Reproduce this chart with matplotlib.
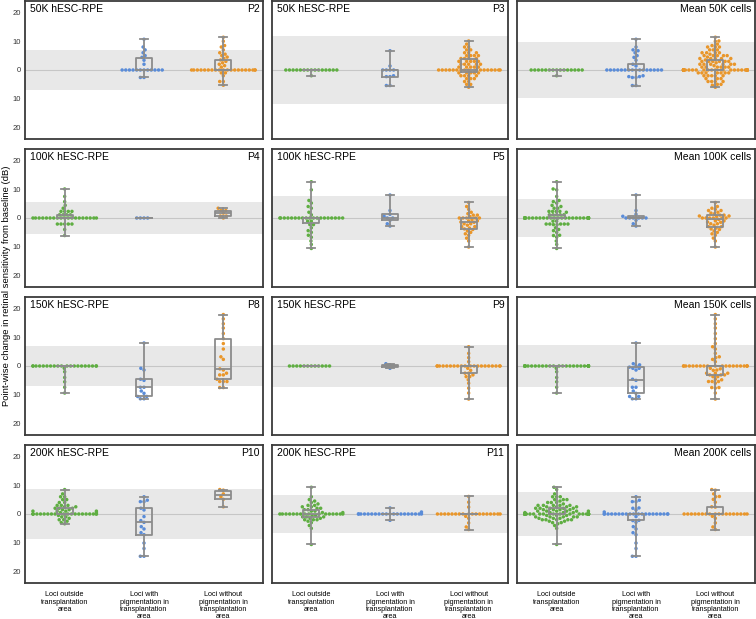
import warnings
import matplotlib
matplotlib.use("Agg")
import matplotlib.pyplot as plt
import numpy as np
import pandas as pd
import seaborn as sns

warnings.filterwarnings("ignore")
plt.rcParams['font.family'] = ['Liberation Sans', 'DejaVu Sans']

# categories (x axis)
cat_keys = ["outside", "pigmented", "unpigmented"]
cat_labels = ["Loci outside\ntransplantation\narea",
              "Loci with\npigmentation in\ntransplantation\narea",
              "Loci without\npigmentation in\ntransplantation\narea"]
colors = {"outside": "#5fae42", "pigmented": "#5a8cd8", "unpigmented": "#e9962a"}

# point-wise change from baseline (dB), one list per patient and category
p2_out = []
p2_pig = [10.7, 8, 7, 6, 5, 4.4, 3.4, 2] + [0] * 12 + [-2.6, -2.6]
p2_nopig = [11.4, 10, 8.5, 8, 7, 6, 5.5, 5, 4.5, 4, 3.5, 3, 2.5, 2, 1.5, 1] + [0] * 20 + [-1, -1, -2, -4, -4, -5.3]

p3_out = [0] * 15 + [-2]
p3_pig = [6.7, 1.4] + [0] * 4 + [-2, -2.3, -2.3, -5.4, -5.4]
p3_nopig = ([10.1, 9, 8, 8, 7, 7, 6, 6, 6, 5, 5, 5, 5, 4, 4, 4, 4, 3, 3, 3, 3, 3, 2, 2, 2, 2, 2, 1, 1, 1, 1, 1]
            + [0] * 17 + [-1, -1, -1, -1, -1, -2, -2, -2, -2, -3, -3, -3, -4, -4, -5, -5, -6])

p4_out = [10.1, 7.5, 5.7, 4.4, 3.4, 2.3, 2.3, 2.3, 2.3, 1.1, 1.1, 1.1, 1.1] + [0] * 19 + [-2.1] * 5 + [-4, -6.1]
p4_pig = [0] * 4
p4_nopig = [3.4, 2.6, 2.6, 1.7, 0.7, 0.7, 0]

p5_out = [12.6, 9.8, 6.1, 5.2, 4, 3.4, 2, 1.1] + [0] * 19 + [-1.1, -1.1, -2.3, -2.3, -3.4, -4.4, -5, -6, -6.7, -8, -9.2, -10.6]
p5_pig = [8, 2.6, 1.3, 0.6, 0, 0, -0.8, -2, -2.8]
p5_nopig = ([5.4, 4, 3, 2, 1.5, 1, 1, 0.5] + [0] * 5
            + [-0.5, -1, -1, -1.4, -1.5, -2, -2, -2.5, -3, -3, -3.5, -3.8, -4, -4.5, -5, -5.5, -6, -7, -8, -10.1])

p8_out = [0] * 20 + [-0.8, -2, -4, -5.5, -7.4, -9.4]
p8_pig = [8, -0.8, -1.4, -4.6, -5, -7.4, -7.4, -8.7, -9.5, -10.6, -10.6, -11.4, -11.4]
p8_nopig = [17.9, 16.4, 14.7, 13.2, 11.3, 9.5, 7.8, 5.9, 3.2, 2.3, -1, -1.4, -2.5, -3.1, -3.1, -4.6, -5.4, -5.4, -5.4, -7.5, -7.5]

p9_out = [0] * 12
p9_pig = [0.8, 0.4, 0, -0.4, -0.8]
p9_nopig = [6.7, 4.4, 2.9, 1.5] + [0] * 20 + [-0.8, -1.5, -2.5, -2.5, -3.1, -3.7, -3.7, -4.8, -6, -7.7, -9.4, -11.5]

p10_out = ([8.5, 7, 6, 6, 5, 5, 4, 4, 3, 3, 3, 2.5, 2.5, 2, 2, 2, 1.5, 1.5, 1, 1, 1, 1, 0.5, 0.5]
           + [0] * 20 + [-0.5, -1, -1, -1.5, -2, -2, -2.5, -3, -3.4])
p10_pig = [6, 4.8, 4.3, 4.3, 2, 1.4, -0.9, -2.3, -2.9, -4.4, -5.2, -6.5, -7.2, -10.1, -12, -14.7, -14.7]
p10_nopig = [8.5, 8.3, 7, 6, 5.1, 2.5]

p11_out = ([9.3, 6, 5, 4.5, 4, 3.5, 3, 3, 2.5, 2.5, 2, 2, 1.5, 1.5, 1, 1, 0.5, 0.5]
           + [0] * 16 + [-0.5, -0.5, -1, -1, -1, -1.5, -1.5, -2, -2, -2, -2.5, -3, -4, -5, -10.6])
p11_pig = [2.1, 0.7] + [0] * 20 + [-2.2]
p11_nopig = [6.1, 4.1, 2.4] + [0] * 18 + [-0.8, -1.5, -3.1, -4.5, -5.4]

# half width of the grey variability band (dB)
bands = [[6.9, 11.7, 9.6],
         [5.7, 7.6, 6.7],
         [7.0, 7.4, 7.2],
         [8.8, 6.6, 7.7]]

doses = ["50K", "100K", "150K", "200K"]
patients = [["P2", "P3"], ["P4", "P5"], ["P8", "P9"], ["P10", "P11"]]
data = [[(p2_out, p2_pig, p2_nopig), (p3_out, p3_pig, p3_nopig)],
        [(p4_out, p4_pig, p4_nopig), (p5_out, p5_pig, p5_nopig)],
        [(p8_out, p8_pig, p8_nopig), (p9_out, p9_pig, p9_nopig)],
        [(p10_out, p10_pig, p10_nopig), (p11_out, p11_pig, p11_nopig)]]

fig = plt.figure(figsize=(7.56, 6.19), dpi=100)
W, H = 756, 619
col_x = [(25, 263), (272, 508), (517, 755)]
row_top = [1, 149, 297, 445]
row_h = 138

box_col = "#8c8c8c"


def draw(ax, groups, band, left_txt, right_txt, bottom):
    ax.axhspan(-band, band, color="#e8e8e8", lw=0, zorder=0)
    ax.axhline(0, color="#c6c6c6", lw=0.8, zorder=0.5)
    vals = np.concatenate([np.asarray(g, dtype=float) for g in groups])
    cats = np.repeat(cat_keys, [len(g) for g in groups])
    df = pd.DataFrame({"cat": cats, "val": vals})
    sns.swarmplot(data=df, x="cat", y="val", hue="cat", order=cat_keys, hue_order=cat_keys,
                  palette=colors, size=2.5, linewidth=0, legend=False, ax=ax, zorder=2)
    pos = [i for i, g in enumerate(groups) if len(g) > 0]
    ax.boxplot([groups[i] for i in pos], positions=pos, widths=0.2, whis=(0, 100),
               showfliers=False, manage_ticks=False, zorder=3,
               boxprops=dict(color=box_col, lw=1.3),
               whiskerprops=dict(color=box_col, lw=1.3),
               capprops=dict(color=box_col, lw=1.3),
               medianprops=dict(color=box_col, lw=1.3))
    ax.set_xlim(-0.5, 2.5)
    ax.set_ylim(-24, 24)
    ax.set_xlabel("")
    ax.set_ylabel("")
    ax.set_xticks([0, 1, 2])
    if bottom:
        ax.set_xticklabels(cat_labels, fontsize=5.2, linespacing=1.05, va="top")
    else:
        ax.set_xticklabels([])
    ax.tick_params(length=0, pad=6)
    for s in ax.spines.values():
        s.set_color("#3a3a3a")
        s.set_linewidth(1.3)
    if left_txt:
        ax.text(0.02, 0.975, left_txt, transform=ax.transAxes, ha="left", va="top", fontsize=7.5)
    ax.text(0.985, 0.975, right_txt, transform=ax.transAxes, ha="right", va="top", fontsize=7.5)


for r in range(4):
    pa, pb = data[r]
    mean_groups = tuple(pa[k] + pb[k] for k in range(3))
    panel_groups = [pa, pb, mean_groups]
    rights = patients[r] + ["Mean %s cells" % doses[r]]
    for c in range(3):
        x0, x1 = col_x[c]
        top = row_top[r]
        ax = fig.add_axes([x0 / W, 1 - (top + row_h) / H, (x1 - x0) / W, row_h / H])
        left_txt = "%s hESC-RPE" % doses[r] if c < 2 else ""
        draw(ax, panel_groups[c], bands[r][c], left_txt, rights[c], r == 3)
        ax.set_yticks([20, 10, 0, -10, -20])
        if c == 0:
            ax.set_yticklabels(["20", "10", "0", "10", "20"], fontsize=5.5, color="#333333")
            ax.tick_params(axis="y", pad=3)
        else:
            ax.set_yticklabels([])

fig.text(0.008, 1 - 286 / H, "Point-wise change in retinal sensitivity from baseline (dB)",
         rotation=90, ha="center", va="center", fontsize=6.8)

fig.savefig("out.png", dpi=100)
